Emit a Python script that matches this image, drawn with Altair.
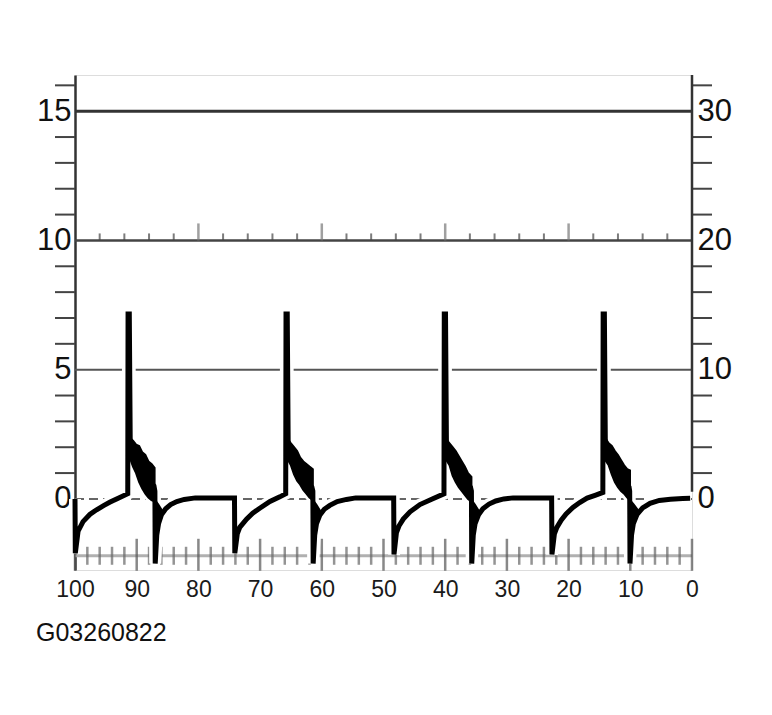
import altair as alt
import pandas as pd

FONT = "Liberation Sans, Arial, Helvetica, sans-serif"

# ---------------- data ----------------
x_label_values = [100, 90, 80, 70, 60, 50, 40, 30, 20, 10, 0]
left_label_values = [0, 5, 10, 15]
right_label_values = [0, 10, 20, 30]
caption = "G03260822"

grid_levels = [15, 10, 5, 0]
bottom_axis_level = -2.2
right_axis_bottom = 0.55   # right-scale value where the right axis line stops
right_axis_top = 32.8

left_tick_values = [1, 2, 3, 4, 6, 7, 8, 9, 11, 12, 13, 14, 16]
right_tick_values = [2, 4, 6, 8, 12, 14, 16, 18, 22, 24, 26, 28, 32]
ref_small_ticks = [96, 92, 88, 84, 76, 72, 68, 64, 56, 52, 48, 44, 36, 32, 28, 24, 16, 12, 8, 4]
ref_tall_ticks = [80, 60, 40, 20]
bottom_small_ticks = [98, 96, 94, 92, 88, 86, 84, 82, 78, 76, 74, 72, 68, 66, 64, 62,
                      58, 56, 54, 52, 48, 46, 44, 42, 38, 36, 34, 32, 28, 26, 24, 22,
                      18, 16, 14, 12, 8, 6, 4, 2]
bottom_tall_ticks = [100, 90, 80, 70, 60, 50, 40, 30, 20, 10, 0]

trace_x = [
    100.0, 99.95, 99.5, 98.7, 97.6, 96.5, 95.3, 94.3, 93.0, 91.45, 91.4, 91.2, 91.05,
    90.2, 89.2, 88.2, 87.2, 87.05, 87.0, 86.75, 86.45, 86.0, 85.3, 84.5, 83.5, 82.3,
    80.5, 74.15, 74.1,
    73.7, 73.3, 72.2, 71.2, 70.0, 68.4, 66.8, 65.85, 65.8, 65.6, 65.45,
    64.6, 63.6, 62.6, 61.6, 61.45, 61.4, 61.15, 60.85, 60.3, 59.6, 58.7, 57.5,
    56.0, 54.5, 48.35, 48.3,
    47.9, 47.5, 46.8, 45.7, 44.1, 42.1, 40.2, 40.15, 39.95, 39.8,
    38.9, 37.9, 36.9, 35.9, 35.75, 35.7, 35.45, 35.15, 34.6, 33.9, 32.9, 31.8,
    30.5, 29.0, 22.75, 22.7,
    22.3, 21.9, 21.2, 20.4, 19.3, 18.2, 17.0, 15.6, 14.45, 14.4, 14.2, 14.05,
    13.2, 12.2, 11.2, 10.2, 10.1, 10.05, 9.8, 9.5, 8.9, 8.0, 6.8, 5.3, 3.5, 1.5, 0.3,
]
trace_y = [
    0.0, -2.1, -1.25, -0.88, -0.6, -0.42, -0.25, -0.12, 0.03, 0.2, 7.15, 7.15, 2.2,
    1.6, 1.1, 0.75, 0.5, 0.3, -2.5, -1.4, -0.95, -0.62, -0.38, -0.22, -0.1, -0.02,
    0.04, 0.04, -2.1,
    -1.35, -1.1, -0.78, -0.55, -0.35, -0.1, 0.08, 0.2, 7.15, 7.15, 2.15,
    1.6, 1.05, 0.7, 0.45, 0.3, -2.5, -1.4, -0.95, -0.62, -0.4, -0.25, -0.1,
    -0.02, 0.04, 0.04, -2.15,
    -1.3, -1.05, -0.78, -0.5, -0.22, 0.0, 0.2, 7.15, 7.15, 2.15,
    1.6, 1.05, 0.7, 0.45, 0.3, -2.5, -1.4, -0.95, -0.62, -0.38, -0.2, -0.08,
    0.0, 0.04, 0.04, -2.15,
    -1.35, -1.1, -0.82, -0.58, -0.33, -0.14, 0.03, 0.15, 0.25, 7.15, 7.15, 2.2,
    1.6, 1.1, 0.7, 0.45, 0.3, -2.5, -1.4, -0.95, -0.6, -0.35, -0.17, -0.06, -0.01, 0.02, 0.03,
]

# ringing band after each spike (top and bottom edges of the black band)
noise_cycle = [1] * 9 + [2] * 9 + [3] * 9 + [4] * 9
noise_x = [
    91.05, 90.6, 90.1, 89.6, 89.1, 88.6, 88.1, 87.6, 87.1,
    65.45, 65.0, 64.5, 64.0, 63.5, 63.0, 62.5, 62.0, 61.45,
    39.8, 39.3, 38.8, 38.3, 37.8, 37.3, 36.8, 36.3, 35.75,
    14.05, 13.5, 13.0, 12.5, 12.0, 11.5, 11.0, 10.5, 10.05,
]
noise_top = [
    2.35, 2.25, 2.1, 2.05, 1.8, 1.7, 1.45, 1.35, 1.2,
    2.3, 2.15, 2.0, 1.85, 1.6, 1.45, 1.35, 1.25, 1.15,
    2.3, 2.15, 2.0, 1.85, 1.65, 1.45, 1.25, 1.0, 0.85,
    2.35, 2.15, 2.05, 1.85, 1.7, 1.5, 1.3, 1.15, 1.1,
]
noise_bottom = [
    1.55, 1.25, 1.0, 0.65, 0.4, 0.2, 0.05, -0.05, -0.1,
    1.5, 1.3, 0.95, 0.7, 0.55, 0.35, 0.2, 0.05, -0.05,
    1.5, 1.3, 0.9, 0.65, 0.45, 0.3, 0.15, 0.0, -0.1,
    1.5, 1.3, 0.95, 0.65, 0.45, 0.3, 0.2, 0.05, -0.05,
]

# ringing wedge just after each drop
wedge_cycle = [1] * 3 + [2] * 3 + [3] * 3 + [4] * 3
wedge_x = [87.0, 86.5, 85.9, 61.4, 60.9, 60.3, 35.7, 35.2, 34.6, 10.05, 9.5, 8.8]
wedge_top = [-0.05, -0.22, -0.45, -0.05, -0.22, -0.45, -0.05, -0.22, -0.45, -0.05, -0.2, -0.42]
wedge_bottom = [-1.5, -0.95, -0.6, -1.5, -0.95, -0.6, -1.5, -0.95, -0.6, -1.5, -0.95, -0.55]

# ---------------- tables ----------------
trace_df = pd.DataFrame({"i": range(len(trace_x)), "x": trace_x, "y": trace_y})
noise_df = pd.DataFrame({"c": noise_cycle, "x": noise_x, "top": noise_top, "bottom": noise_bottom})
wedge_df = pd.DataFrame({"c": wedge_cycle, "x": wedge_x, "top": wedge_top, "bottom": wedge_bottom})
grid_df = pd.DataFrame({"y": grid_levels, "x0": [x_label_values[0]] * 4, "x1": [x_label_values[-1]] * 4})
base_df = pd.DataFrame({"y": [bottom_axis_level], "x0": [x_label_values[0]], "x1": [x_label_values[-1]]})
lt_df = pd.DataFrame({"y": left_tick_values})
rt_df = pd.DataFrame({"y": right_tick_values})
rline_df = pd.DataFrame({"x": [x_label_values[-1]], "y0": [right_axis_bottom], "y1": [right_axis_top]})
refs_df = pd.DataFrame({"x": ref_small_ticks, "y": [grid_levels[1]] * len(ref_small_ticks)})
reft_df = pd.DataFrame({"x": ref_tall_ticks, "y": [grid_levels[1]] * len(ref_tall_ticks)})
bs_df = pd.DataFrame({"x": bottom_small_ticks, "y": [bottom_axis_level] * len(bottom_small_ticks)})
bt_df = pd.DataFrame({"x": bottom_tall_ticks, "y": [bottom_axis_level] * len(bottom_tall_ticks)})
cap_df = pd.DataFrame({"t": [caption]})

# ---------------- scales & axes ----------------
XS = alt.Scale(domain=[0, 100], reverse=True, nice=False, zero=False)
XA = alt.Axis(values=x_label_values, title=None, labelFontSize=23, labelFont=FONT,
              labelColor="#1a1a1a", labelPadding=8, ticks=False, tickSize=0, domain=False,
              grid=False, labelFlush=False, labelOverlap=False, format="d")
YS = alt.Scale(domain=[-2.75, 16.4], nice=False, zero=False)
YA = alt.Axis(values=left_label_values, title=None, labelFontSize=31, labelFont=FONT,
              labelColor="#111", labelPadding=4, ticks=False, tickSize=0, domain=True,
              domainColor="#333", domainWidth=2.5, grid=False, labelFlush=False,
              labelOverlap=False, format="d")
YRS = alt.Scale(domain=[-5.5, 32.8], nice=False, zero=False)
YRA = alt.Axis(orient="right", values=right_label_values, title=None, labelFontSize=31,
               labelFont=FONT, labelColor="#111", labelPadding=5, ticks=False, tickSize=0,
               domain=False, grid=False, labelFlush=False, labelOverlap=False, format="d")


def X(f):
    return alt.X(f, type="quantitative", scale=XS, axis=XA)


def Y(f):
    return alt.Y(f, type="quantitative", scale=YS, axis=YA, stack=None)


def YR(f):
    return alt.Y(f, type="quantitative", scale=YRS, axis=YRA)


grid = alt.Chart(grid_df)
g15 = grid.transform_filter("datum.y == 15").mark_rule(color="#333", strokeWidth=3).encode(
    y=Y("y"), x=X("x0"), x2="x1")
g10 = grid.transform_filter("datum.y == 10").mark_rule(color="#444", strokeWidth=2.5).encode(
    y=Y("y"), x=X("x0"), x2="x1")
g5 = grid.transform_filter("datum.y == 5").mark_rule(color="#555", strokeWidth=2).encode(
    y=Y("y"), x=X("x0"), x2="x1")
g0 = grid.transform_filter("datum.y == 0").mark_rule(color="#666", strokeWidth=2,
                                                      strokeDash=[9, 5]).encode(
    y=Y("y"), x=X("x0"), x2="x1")

base = alt.Chart(base_df).mark_rule(color="#b0b0b0", strokeWidth=3).encode(
    y=Y("y"), x=X("x0"), x2="x1")

ref_small = alt.Chart(refs_df).mark_tick(orient="vertical", size=7, thickness=2,
                                         yOffset=-3.5, color="#444").encode(x=X("x"), y=Y("y"))
ref_tall = alt.Chart(reft_df).mark_tick(orient="vertical", size=17, thickness=2.5,
                                        yOffset=-8.5, color="#777").encode(x=X("x"), y=Y("y"))
bot_small = alt.Chart(bs_df).mark_tick(orient="vertical", size=18, thickness=2.5,
                                       color="#666").encode(x=X("x"), y=Y("y"))
bot_tall = alt.Chart(bt_df).mark_tick(orient="vertical", size=32, thickness=2.5,
                                      yOffset=-1, color="#555").encode(x=X("x"), y=Y("y"))

left_ticks = alt.Chart(lt_df).mark_rule(color="#444", strokeWidth=2).encode(
    y=Y("y"), x=alt.value(-20), x2=alt.value(0))

halo_line = alt.Chart(trace_df).mark_line(color="white", strokeWidth=12).encode(
    x=X("x"), y=Y("y"), order="i:Q")
halo_area = alt.Chart(noise_df).mark_area(color="white", stroke="white", strokeWidth=7,
                                          orient="vertical", opacity=1).encode(
    x=X("x"), y=Y("top"), y2="bottom", detail="c:N")
noise = alt.Chart(noise_df).mark_area(color="black", stroke="black", strokeWidth=2,
                                      orient="vertical", opacity=1).encode(
    x=X("x"), y=Y("top"), y2="bottom", detail="c:N")
wedge = alt.Chart(wedge_df).mark_area(color="black", stroke="black", strokeWidth=2,
                                      orient="vertical", opacity=1).encode(
    x=X("x"), y=Y("top"), y2="bottom", detail="c:N")
trace = alt.Chart(trace_df).mark_line(color="black", strokeWidth=5).encode(
    x=X("x"), y=Y("y"), order="i:Q")

cap = alt.Chart(cap_df).mark_text(align="left", baseline="middle", fontSize=25, font=FONT,
                                  color="#111").encode(
    text="t:N", x=alt.value(-39), y=alt.value(558))

left_group = alt.layer(g15, g10, g5, g0, base, ref_small, ref_tall, bot_small, bot_tall,
                       left_ticks, halo_line, halo_area, noise, wedge, trace, cap)

right_ticks = alt.Chart(rt_df).mark_rule(color="#444", strokeWidth=2).encode(
    y=YR("y"), x=alt.value(617), x2=alt.value(637))
right_line = alt.Chart(rline_df).mark_rule(color="#333", strokeWidth=2.5).encode(
    x=X("x"), y=YR("y0"), y2="y1")
right_group = alt.layer(right_ticks, right_line)

chart = alt.layer(left_group, right_group).resolve_scale(y="independent").properties(
    width=617, height=495,
    padding={"left": 67, "top": 67, "right": 60, "bottom": 80},
    autosize=alt.AutoSizeParams(type="none"),
).configure_view(stroke=None).configure(background="white")

chart.save("out.html", embed_options={"renderer": "svg", "actions": False})
